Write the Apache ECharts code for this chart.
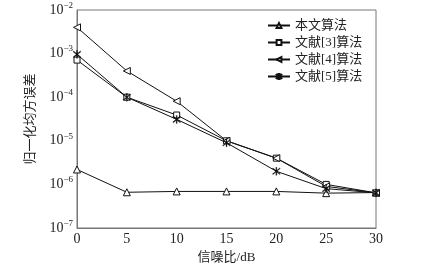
<!DOCTYPE html>
<html>
<head>
<meta charset="utf-8">
<script src="https://cdn.jsdelivr.net/npm/echarts@6/dist/echarts.min.js"></script>
<style>
html, body { margin: 0; padding: 0; background: #fff; }
#chart { width: 434px; height: 274px; }
</style>
</head>
<body>
<div id="chart"></div>
<script>
// 数据
var snr = ['0', '5', '10', '15', '20', '25', '30'];
var ours = [2.2e-6, 6.6e-7, 6.9e-7, 6.9e-7, 6.9e-7, 6.3e-7, 6.5e-7];
var ref3 = [7.1e-4, 1.0e-4, 3.9e-5, 1.0e-5, 4.0e-6, 1.0e-6, 6.4e-7];
var ref4 = [4.0e-3, 4.0e-4, 8.1e-5, 1.0e-5, 4.0e-6, 9.0e-7, 6.4e-7];
var ref5 = [9.6e-4, 1.0e-4, 3.1e-5, 9.0e-6, 2.0e-6, 8.0e-7, 6.4e-7];
var names = ['本文算法', '文献[3]算法', '文献[4]算法', '文献[5]算法'];

var starPath = 'path://M4.5 0L5.5 0L5.5 10L4.5 10Z M0.9 1.6L1.6 0.9L9.1 8.4L8.4 9.1Z M8.4 0.9L9.1 1.6L1.6 9.1L0.9 8.4Z';
var serif = '"Liberation Serif", "Noto Sans CJK SC", serif';
var cjk = '"Liberation Serif", "Noto Sans CJK SC", serif';

function lineSeries(name, data, symbol, rotate, size){
	return {
		name: name,
		type: 'line',
		data: data,
		symbol: symbol,
		symbolRotate: rotate,
		symbolSize: size,
		showAllSymbol: true,
		itemStyle: { color: '#fff', borderColor: '#111', borderWidth: 1 },
		lineStyle: { color: '#111', width: 1 },
		emphasis: { disabled: true }
	};
}

var chart = echarts.init(document.getElementById('chart'));
var star = lineSeries(names[3], ref5, starPath, 0, 8);
star.itemStyle = { color: '#111', borderColor: '#111', borderWidth: 0.3 };
var option = {
	animation: false,
	backgroundColor: '#fff',
	grid: {
		left: 77, top: 10, width: 299, height: 218,
		show: true, borderColor: '#777', borderWidth: 1, backgroundColor: 'transparent'
	},
	legend: {
		orient: 'vertical',
		left: 262, top: 14,
		itemWidth: 22, itemHeight: 6, itemGap: 4,
		textStyle: { fontFamily: cjk, fontSize: 13, color: '#222' },
		data: names
	},
	xAxis: {
		type: 'category',
		data: snr,
		boundaryGap: false,
		name: '信噪比/dB',
		nameLocation: 'middle',
		nameGap: 17,
		nameTextStyle: { fontFamily: cjk, fontSize: 13, color: '#222' },
		axisLine: { lineStyle: { color: '#777' } },
		axisTick: { show: false },
		axisLabel: { fontFamily: serif, fontSize: 14, color: '#222', margin: 4 },
		splitLine: { show: false }
	},
	yAxis: {
		type: 'log',
		logBase: 10,
		min: 1e-7,
		max: 1e-2,
		name: '归一化均方误差',
		nameLocation: 'middle',
		nameGap: 40,
		nameTextStyle: { fontFamily: cjk, fontSize: 13, color: '#222' },
		axisLine: { show: true, lineStyle: { color: '#777' } },
		axisTick: { inside: true, length: 4, lineStyle: { color: '#777' } },
		minorTick: { show: false },
		splitLine: { show: false },
		axisLabel: {
			margin: 4,
			formatter: function(v){
				var e = Math.round(Math.log10(v));
				return '{a|10}{b|' + (e < 0 ? '\u2212' + (-e) : e) + '}';
			},
			rich: {
				a: { fontFamily: serif, fontSize: 14, color: '#222' },
				b: { fontFamily: serif, fontSize: 9, color: '#222', padding: [0, 0, 9, 0] }
			}
		}
	},
	series: [
		lineSeries(names[0], ours, 'triangle', 0, 7),
		lineSeries(names[1], ref3, 'rect', 0, 6),
		lineSeries(names[2], ref4, 'triangle', 90, 7),
		star
	]
};
chart.setOption(option);
</script>
</body>
</html>
